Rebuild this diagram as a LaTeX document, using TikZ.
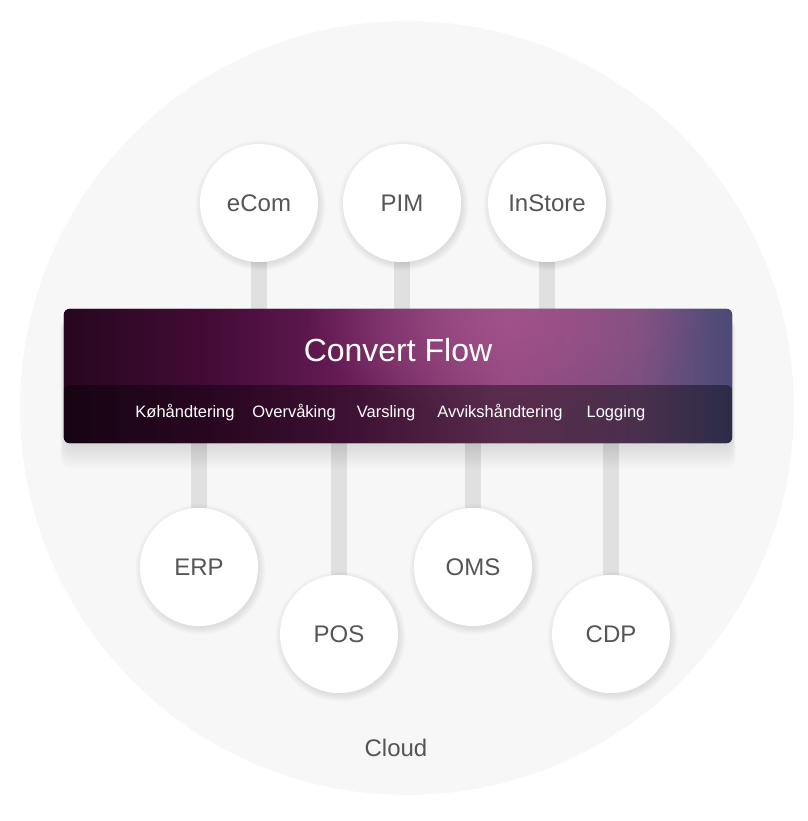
\documentclass[tikz,border=0pt]{standalone}
\usepackage{fontspec}
\setmainfont{Liberation Sans}
\usetikzlibrary{positioning}
\usetikzlibrary{fadings}

\definecolor{cloudgray}{HTML}{F7F7F7}
\definecolor{bargray}{HTML}{E0E0E0}
\definecolor{labelgray}{HTML}{555555}
\definecolor{flowA}{HTML}{26071F}
\definecolor{flowB}{HTML}{440B37}
\definecolor{flowC}{HTML}{661C55}
\definecolor{flowD}{HTML}{944880}
\definecolor{flowE}{HTML}{7A5080}
\definecolor{flowF}{HTML}{4A4A78}
\definecolor{glow}{HTML}{A5558C}

\pgfdeclarehorizontalshading{flowband}{100bp}{color(0bp)=(flowA); color(25bp)=(flowA); color(36bp)=(flowB); color(46bp)=(flowC); color(58bp)=(flowD); color(68bp)=(flowE); color(75bp)=(flowF); color(100bp)=(flowF)}
\tikzfading[name=glowfade, inner color=transparent!0, outer color=transparent!100]

\pgfdeclarelayer{background}
\pgfdeclarelayer{shadow}
\pgfsetlayers{background,shadow,main}

\begin{document}
\begin{tikzpicture}[x=1pt,y=-1pt,
		system/.style={circle, fill=white, minimum size=118pt, inner sep=0pt,
			font=\fontsize{24}{27}\selectfont, text=labelgray},
		bar/.style={bargray, line width=16pt},
		task/.style={text=white, font=\fontsize{16.5}{19}\selectfont}]

	\useasboundingbox (0,0) rectangle (807,821);

	% the cloud
	\begin{pgfonlayer}{background}
		\fill[cloudgray] (407,408) circle (387pt);
	\end{pgfonlayer}
	\node[text=labelgray, font=\fontsize{24}{28}\selectfont] (cloud) at (396,748) {Cloud};

	% convert flow box
	\node[minimum width=668pt, minimum height=134pt, inner sep=0pt] (flow) at (398,376) {};
	\fill[shading=flowband, rounded corners=6pt] (flow.north west) rectangle (flow.south east);
	\begin{scope}
		\clip[rounded corners=6pt] (flow.north west) rectangle (flow.south east);
		\fill[glow, path fading=glowfade, opacity=.75] (505,318) ellipse (200pt and 100pt);
		\fill[black, opacity=.4, rounded corners=6pt] (flow.west |- 0,385) rectangle (flow.south east);
	\end{scope}
	\node[text=white, font=\fontsize{32}{36}\selectfont] (title) at (398,350) {Convert Flow};

	\node[task] (queue) at (185,413) {Køhåndtering};
	\node[task] (monitor) at (294,413) {Overvåking};
	\node[task] (alert) at (386,413) {Varsling};
	\node[task] (errors) at (500,413) {Avvikshåndtering};
	\node[task] (logging) at (616,413) {Logging};

	% systems
	\node[system] (ecom) at (259,203) {eCom};
	\node[system] (pim) at (402,203) {PIM};
	\node[system] (instore) at (547,203) {InStore};

	\node[system] (erp) at (199,567) {ERP};
	\node[system] (pos) at (339,634) {POS};
	\node[system] (oms) at (473,567) {OMS};
	\node[system] (cdp) at (611,634) {CDP};

	% connectors
	\begin{pgfonlayer}{background}
		\foreach \s in {ecom,pim,instore}
			\draw[bar] (\s) -- (\s |- flow.north);
		\foreach \s in {erp,pos,oms,cdp}
			\draw[bar] (\s) -- (\s |- flow.south);
	\end{pgfonlayer}

	% soft shadows
	\begin{pgfonlayer}{shadow}
		\foreach \i in {1,...,14}
			\fill[black, opacity=.009, rounded corners=10pt]
				([xshift=-0.25*\i pt, yshift=-10pt]flow.north west) rectangle ([xshift=0.25*\i pt, yshift=-2pt-1.7*\i pt]flow.south east);
		\foreach \s in {ecom,pim,instore,erp,pos,oms,cdp}
			\foreach \i in {1,...,8}
				\fill[black, opacity=.013] ([xshift=1.5pt, yshift=-2.5pt]\s.center) circle (58pt+0.9*\i pt);
	\end{pgfonlayer}

\end{tikzpicture}
\end{document}
